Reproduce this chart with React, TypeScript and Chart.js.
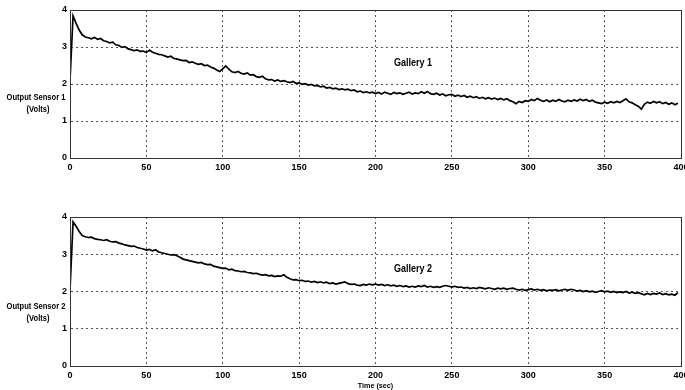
import React, { useEffect, useRef } from "react";
import { Chart, registerables } from "chart.js";

Chart.register(...registerables);

const TIME = [
  0, 2, 4, 6, 8, 10, 12, 14, 16, 18, 20, 22, 24, 26, 28, 30, 32, 34, 36, 38,
  40, 42, 44, 46, 48, 50, 52, 54, 56, 58, 60, 62, 64, 66, 68, 70, 72, 74, 76, 78,
  80, 82, 84, 86, 88, 90, 92, 94, 96, 98, 100, 102, 104, 106, 108, 110, 112, 114, 116, 118,
  120, 122, 124, 126, 128, 130, 132, 134, 136, 138, 140, 142, 144, 146, 148, 150, 152, 154, 156, 158,
  160, 162, 164, 166, 168, 170, 172, 174, 176, 178, 180, 182, 184, 186, 188, 190, 192, 194, 196, 198,
  200, 202, 204, 206, 208, 210, 212, 214, 216, 218, 220, 222, 224, 226, 228, 230, 232, 234, 236, 238,
  240, 242, 244, 246, 248, 250, 252, 254, 256, 258, 260, 262, 264, 266, 268, 270, 272, 274, 276, 278,
  280, 282, 284, 286, 288, 290, 292, 294, 296, 298, 300, 302, 304, 306, 308, 310, 312, 314, 316, 318,
  320, 322, 324, 326, 328, 330, 332, 334, 336, 338, 340, 342, 344, 346, 348, 350, 352, 354, 356, 358,
  360, 362, 364, 366, 368, 370, 372, 374, 376, 378, 380, 382, 384, 386, 388, 390, 392, 394, 396, 398,
];

const SENSOR1 = [
  2.10, 3.84, 3.64, 3.46, 3.33, 3.27, 3.25, 3.22, 3.26, 3.21, 3.23, 3.17, 3.15, 3.11, 3.13, 3.06, 3.04, 2.99, 3.01, 2.95,
  2.93, 2.90, 2.92, 2.88, 2.89, 2.85, 2.92, 2.86, 2.83, 2.80, 2.79, 2.76, 2.73, 2.75, 2.69, 2.68, 2.65, 2.63, 2.64, 2.58,
  2.60, 2.56, 2.53, 2.55, 2.50, 2.51, 2.46, 2.43, 2.38, 2.34, 2.41, 2.49, 2.40, 2.33, 2.31, 2.34, 2.29, 2.27, 2.30, 2.24,
  2.25, 2.20, 2.18, 2.21, 2.14, 2.11, 2.12, 2.08, 2.11, 2.07, 2.09, 2.06, 2.04, 2.07, 2.02, 2.03, 1.99, 2.01, 1.97, 1.99,
  1.95, 1.96, 1.92, 1.94, 1.89, 1.91, 1.87, 1.89, 1.85, 1.87, 1.84, 1.86, 1.82, 1.84, 1.79, 1.81, 1.77, 1.79, 1.76, 1.78,
  1.74, 1.77, 1.73, 1.78, 1.75, 1.72, 1.77, 1.74, 1.76, 1.72, 1.75, 1.78, 1.73, 1.76, 1.74, 1.79, 1.75, 1.80, 1.74, 1.72,
  1.75, 1.70, 1.73, 1.68, 1.71, 1.72, 1.67, 1.70, 1.66, 1.69, 1.64, 1.67, 1.63, 1.66, 1.61, 1.64, 1.60, 1.63, 1.59, 1.62,
  1.58, 1.61, 1.57, 1.60, 1.55, 1.52, 1.47, 1.53, 1.50, 1.55, 1.53, 1.58, 1.55, 1.61, 1.56, 1.53, 1.57, 1.52, 1.56, 1.53,
  1.58, 1.54, 1.52, 1.56, 1.53, 1.57, 1.54, 1.59, 1.55, 1.58, 1.53, 1.56, 1.51, 1.49, 1.47, 1.51, 1.48, 1.52, 1.49, 1.53,
  1.50, 1.55, 1.60, 1.52, 1.49, 1.44, 1.40, 1.32, 1.45, 1.51, 1.48, 1.53, 1.49, 1.52, 1.47, 1.50, 1.45, 1.49, 1.44, 1.48,
];

const SENSOR2 = [
  2.04, 3.87, 3.75, 3.61, 3.50, 3.47, 3.45, 3.46, 3.42, 3.40, 3.39, 3.37, 3.39, 3.35, 3.33, 3.34, 3.30, 3.28, 3.25, 3.23,
  3.21, 3.22, 3.18, 3.16, 3.14, 3.11, 3.13, 3.09, 3.12, 3.06, 3.04, 3.02, 3.00, 2.98, 2.99, 2.96, 2.92, 2.87, 2.85, 2.83,
  2.81, 2.79, 2.77, 2.78, 2.74, 2.72, 2.73, 2.68, 2.66, 2.64, 2.62, 2.63, 2.58, 2.60, 2.56, 2.55, 2.53, 2.54, 2.51, 2.50,
  2.48, 2.49, 2.46, 2.44, 2.45, 2.42, 2.43, 2.40, 2.42, 2.41, 2.45, 2.38, 2.34, 2.31, 2.32, 2.29, 2.30, 2.27, 2.28, 2.25,
  2.27, 2.24, 2.26, 2.23, 2.25, 2.21, 2.23, 2.20, 2.22, 2.24, 2.26, 2.21, 2.19, 2.20, 2.17, 2.16, 2.19, 2.17, 2.20, 2.18,
  2.20, 2.17, 2.19, 2.16, 2.18, 2.15, 2.17, 2.14, 2.16, 2.13, 2.15, 2.12, 2.14, 2.12, 2.15, 2.13, 2.16, 2.12, 2.14, 2.11,
  2.13, 2.11, 2.14, 2.16, 2.14, 2.12, 2.14, 2.11, 2.12, 2.09, 2.11, 2.08, 2.10, 2.08, 2.11, 2.09, 2.07, 2.10, 2.08, 2.06,
  2.09, 2.07, 2.09, 2.06, 2.08, 2.09, 2.06, 2.04, 2.06, 2.03, 2.05, 2.07, 2.04, 2.06, 2.03, 2.05, 2.02, 2.04, 2.03, 2.05,
  2.02, 2.04, 2.06, 2.03, 2.06, 2.04, 2.01, 2.03, 2.00, 2.02, 1.99, 2.01, 1.98, 2.00, 2.02, 1.99, 2.01, 1.98, 2.00, 1.97,
  1.99, 1.97, 2.00, 1.96, 1.98, 1.95, 1.97, 1.94, 1.91, 1.95, 1.92, 1.95, 1.93, 1.96, 1.92, 1.94, 1.91, 1.93, 1.90, 1.97,
];

const X_MIN = 0;
const X_MAX = 400;
const X_STEP = 50;
const Y_MIN = 0;
const Y_MAX = 4;
const Y_STEP = 1;

const FONT_FAMILY = "'Liberation Sans Narrow', 'Arial Narrow', 'Liberation Sans', Arial, sans-serif";

type PanelOpts = {
  values: number[];
  yTitle: string;
  gallery: string;
  galleryPos: [number, number];
  yTitleY: number;
  padTop: number;
  xAxisHeight: number;
  padBottom: number;
  xTitle?: string;
};

function narrowText(ctx: any, text: string, x: number, y: number, sx: number) {
  ctx.save();
  ctx.translate(x, y);
  ctx.scale(sx, 1);
  ctx.fillText(text, 0, 0);
  ctx.restore();
}

const textPlugin = {
  id: "panelText",
  afterDraw(chart: any, _args: any, opts: any) {
    const { ctx, chartArea } = chart;
    ctx.save();
    ctx.strokeStyle = "#333";
    ctx.lineWidth = 1;
    ctx.setLineDash([]);
    ctx.strokeRect(
      Math.round(chartArea.left) + 0.5,
      Math.round(chartArea.top) + 0.5,
      Math.round(chartArea.right - chartArea.left),
      Math.round(chartArea.bottom - chartArea.top)
    );
    ctx.fillStyle = "#000";
    ctx.textAlign = "center";
    ctx.textBaseline = "middle";
    ctx.font = `bold 9px ${FONT_FAMILY}`;
    narrowText(ctx, opts.yTitle, 36, opts.yTitleY, 0.84);
    narrowText(ctx, "(Volts)", 38, opts.yTitleY + 12, 0.84);
    ctx.font = `bold 10px ${FONT_FAMILY}`;
    narrowText(ctx, opts.gallery, opts.galleryPos[0], opts.galleryPos[1], 0.9);
    if (opts.xTitle) {
      ctx.font = `bold 8px ${FONT_FAMILY}`;
      narrowText(ctx, opts.xTitle, (chartArea.left + chartArea.right) / 2, chart.height - 4, 0.9);
    }
    ctx.restore();
  },
};

function Panel(props: PanelOpts & { top: number; height: number }) {
  const ref = useRef<HTMLCanvasElement | null>(null);
  useEffect(() => {
    if (!ref.current) return;
    const points = TIME.map((t, i) => ({ x: t, y: props.values[i] }));
    const chart = new Chart(ref.current, {
      type: "line",
      data: {
        datasets: [
          {
            data: points,
            borderColor: "#000",
            borderWidth: 1.7,
            pointRadius: 0,
            tension: 0,
            fill: false,
          },
        ],
      },
      options: {
        animation: false,
        responsive: false,
        maintainAspectRatio: false,
        events: [],
        layout: { padding: { left: 58, right: 4, top: props.padTop, bottom: props.padBottom } },
        plugins: {
          legend: { display: false },
          tooltip: { enabled: false },
          panelText: {
            yTitle: props.yTitle,
            gallery: props.gallery,
            galleryPos: props.galleryPos,
            yTitleY: props.yTitleY,
            xTitle: props.xTitle,
          },
        } as any,
        scales: {
          x: {
            type: "linear",
            min: X_MIN,
            max: X_MAX,
            ticks: {
              stepSize: X_STEP,
              color: "#000",
              padding: 4,
              font: { family: FONT_FAMILY, size: 9, weight: "bold" },
              maxRotation: 0,
            },
            grid: { color: "#555", lineWidth: 1, drawTicks: false },
            border: { display: true, color: "#333", dash: [2, 3] },
            afterFit: (s: any) => {
              s.height = props.xAxisHeight;
              s.paddingRight = 0;
              s.paddingLeft = 0;
            },
          },
          y: {
            type: "linear",
            min: Y_MIN,
            max: Y_MAX,
            ticks: {
              stepSize: Y_STEP,
              color: "#000",
              padding: 3,
              font: { family: FONT_FAMILY, size: 9, weight: "bold" },
            },
            grid: { color: "#555", lineWidth: 1, drawTicks: false },
            border: { display: true, color: "#333", dash: [2, 3] },
            afterFit: (s: any) => {
              s.width = 12;
              s.paddingTop = 0;
              s.paddingBottom = 0;
            },
          },
        },
      },
      plugins: [textPlugin],
    } as any);
    return () => chart.destroy();
  }, []);
  return (
    <div style={{ position: "fixed", left: 0, top: props.top, width: 685, height: props.height }}>
      <canvas ref={ref} width={685} height={props.height} style={{ display: "block" }} />
    </div>
  );
}

export default function App() {
  return (
    <div style={{ position: "fixed", left: 0, top: 0, width: 685, height: 390, background: "#fff" }}>
      <Panel
        top={0}
        height={190}
        values={SENSOR1}
        yTitle="Output Sensor 1"
        gallery="Gallery 1"
        galleryPos={[413, 63]}
        yTitleY={98}
        padTop={10}
        xAxisHeight={16}
        padBottom={16}
      />
      <Panel
        top={200}
        height={190}
        values={SENSOR2}
        yTitle="Output Sensor 2"
        gallery="Gallery 2"
        galleryPos={[413, 69]}
        yTitleY={107}
        padTop={17}
        xAxisHeight={24}
        padBottom={0}
        xTitle="Time (sec)"
      />
    </div>
  );
}
